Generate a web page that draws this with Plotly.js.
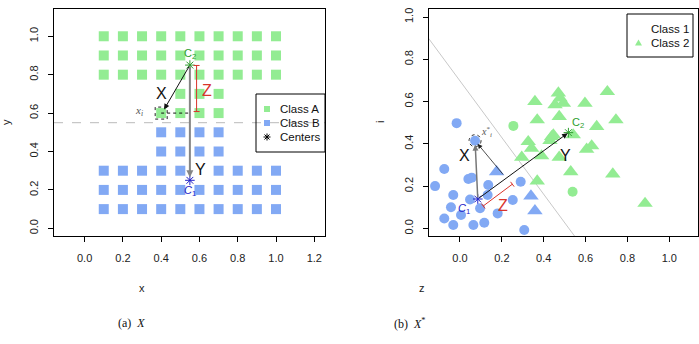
<!DOCTYPE html>
<html>
<head>
<meta charset="utf-8">
<script src="https://cdn.plot.ly/plotly-3.0.1.min.js"></script>
<style>
  html, body { margin: 0; padding: 0; background: #fff; }
  #chart { width: 699px; height: 344px; }
</style>
</head>
<body>
<div id="chart"></div>
<script>
// ---------- panel (a): grid in the original space X ----------
const classAx = [0.1,0.2,0.3,0.4,0.5,0.6,0.7,0.8,0.9,1.0,
                 0.1,0.2,0.3,0.4,0.5,0.6,0.7,0.8,0.9,1.0,
                 0.1,0.2,0.3,0.4,0.5,0.6,0.7,0.8,0.9,1.0,
                 0.5,0.6,0.7,
                 0.4,0.5,0.6,0.7];
const classAy = [1.0,1.0,1.0,1.0,1.0,1.0,1.0,1.0,1.0,1.0,
                 0.9,0.9,0.9,0.9,0.9,0.9,0.9,0.9,0.9,0.9,
                 0.8,0.8,0.8,0.8,0.8,0.8,0.8,0.8,0.8,0.8,
                 0.7,0.7,0.7,
                 0.6,0.6,0.6,0.6];
const classBx = [0.4,0.5,0.6,0.7,
                 0.4,0.5,0.6,0.7,
                 0.1,0.2,0.3,0.4,0.5,0.7,0.8,0.9,1.0,
                 0.1,0.2,0.3,0.4,0.5,0.6,0.7,0.8,0.9,1.0,
                 0.1,0.2,0.3,0.4,0.5,0.6,0.7,0.8,0.9,1.0];
const classBy = [0.5,0.5,0.5,0.5,
                 0.4,0.4,0.4,0.4,
                 0.3,0.3,0.3,0.3,0.3,0.3,0.3,0.3,0.3,
                 0.2,0.2,0.2,0.2,0.2,0.2,0.2,0.2,0.2,0.2,
                 0.1,0.1,0.1,0.1,0.1,0.1,0.1,0.1,0.1,0.1];
const centerA1 = [0.55, 0.25];   // C1 (Class B centre)
const centerA2 = [0.55, 0.85];   // C2 (Class A centre)
const pointA = [0.4, 0.6];       // x_i
const boundaryA = 0.55;          // horizontal separating line
const zBarA = [0.585, 0.608, 0.848]; // x, y from, y to
const tickA_x = [0.0, 0.2, 0.4, 0.6, 0.8, 1.0, 1.2];
const tickA_y = [0.0, 0.2, 0.4, 0.6, 0.8, 1.0];
const legendA = ['Class A', 'Class B', 'Centers'];

// ---------- panel (b): projected space X* ----------
const class1z = [-0.016, 0.072, -0.075, -0.119, -0.032, 0.04, 0.056, 0.135, 0.048, 0.132, 0.29,
                 -0.043, -0.075, 0.005, -0.032, 0.064, 0.116, 0.096, 0.18, 0.252, 0.307];
const class1i = [0.498, 0.415, 0.281, 0.2, 0.158, 0.234, 0.24, 0.205, 0.137, 0.158, 0.221,
                 0.1, 0.047, 0.063, 0.016, 0.016, 0.027, 0.095, 0.071, 0.134, -0.008];
const class1TriZ = [0.175, 0.339, 0.358];
const class1TriI = [0.268, 0.153, 0.083];
const class2CirZ = [0.255, 0.538];
const class2CirI = [0.485, 0.173];
const class2z = [0.358, 0.47, 0.478, 0.454, 0.494, 0.597, 0.704, 0.369, 0.474, 0.653, 0.745, 0.541, 0.326,
                 0.342, 0.438, 0.43, 0.446, 0.39, 0.474, 0.295, 0.605, 0.629, 0.529, 0.369, 0.73, 0.884];
const class2i = [0.60, 0.64, 0.616, 0.584, 0.592, 0.592, 0.647, 0.513, 0.529, 0.482, 0.513, 0.442, 0.41,
                 0.379, 0.434, 0.415, 0.442, 0.343, 0.336, 0.336, 0.374, 0.39, 0.268, 0.224, 0.257, 0.118];
const centerB1 = [0.085, 0.139];
const centerB2 = [0.518, 0.453];
const pointB = [0.072, 0.415];          // x*_i
const footB = [0.212, 0.248];           // end of the thin guide from x*_i
const boundaryBz = [-0.25, 0.65];
const boundaryBi = [1.033, -0.174];
const zBarB = [[0.111, 0.106], [0.25, 0.209]];
const tickB_x = [0.0, 0.2, 0.4, 0.6, 0.8, 1.0];
const tickB_y = [0.0, 0.2, 0.4, 0.6, 0.8, 1.0];
const legendB = ['Class 1', 'Class 2'];

const BLUE = '#82A9F4';
const GREEN = '#93EC93';
const RED = '#D9332B';
const DKGREEN = '#2E9E2E';
const DKBLUE = '#2020C8';
const SANS = 'Liberation Sans, Arial, sans-serif';
const SERIF = 'Liberation Serif, Times New Roman, serif';

function star(c, color, xa, ya) {
  return {x: [c[0]], y: [c[1]], xaxis: xa, yaxis: ya, mode: 'markers', showlegend: false,
          marker: {symbol: 'asterisk-open', size: 8, color: color, line: {color: color, width: 1}}};
}

const traces = [
  // panel (a)
  {x: classAx, y: classAy, xaxis: 'x', yaxis: 'y', type: 'scatter', mode: 'markers', showlegend: false,
   marker: {symbol: 'square', size: 10, color: GREEN}},
  {x: classBx, y: classBy, xaxis: 'x', yaxis: 'y', type: 'scatter', mode: 'markers', showlegend: false,
   marker: {symbol: 'square', size: 10, color: BLUE}},
  star(centerA2, DKGREEN, 'x', 'y'),
  star(centerA1, DKBLUE, 'x', 'y'),
  // panel (b)
  {x: boundaryBz, y: boundaryBi, xaxis: 'x2', yaxis: 'y2', mode: 'lines', showlegend: false,
   line: {color: '#C8C8C8', width: 1}},
  {x: class1z, y: class1i, xaxis: 'x2', yaxis: 'y2', mode: 'markers', showlegend: false,
   marker: {symbol: 'circle', size: 10, color: BLUE}},
  {x: class1TriZ, y: class1TriI, xaxis: 'x2', yaxis: 'y2', mode: 'markers', showlegend: false,
   marker: {symbol: 'triangle-up', size: 13.5, color: BLUE}},
  {x: class2CirZ, y: class2CirI, xaxis: 'x2', yaxis: 'y2', mode: 'markers', showlegend: false,
   marker: {symbol: 'circle', size: 10, color: GREEN}},
  {x: class2z, y: class2i, xaxis: 'x2', yaxis: 'y2', mode: 'markers', showlegend: false,
   marker: {symbol: 'triangle-up', size: 13.5, color: GREEN}},
  star(centerB2, DKGREEN, 'x2', 'y2'),
  star(centerB1, DKBLUE, 'x2', 'y2')
];

function axisStyle(extra) {
  return Object.assign({
    showgrid: false, zeroline: false, showline: true, mirror: true,
    linecolor: '#000', linewidth: 1, ticks: 'outside', ticklen: 5, tickwidth: 1, tickcolor: '#000',
    tickformat: '.1f', tickmode: 'array',
    tickfont: {family: SANS, size: 11, color: '#222'}
  }, extra);
}

function arrow(head, tail, ax, ay, color, width, size, standoff) {
  return {x: head[0], y: head[1], ax: tail[0], ay: tail[1], xref: ax, yref: ay, axref: ax, ayref: ay,
          text: '', showarrow: true, arrowhead: 2, arrowsize: size, arrowwidth: width, arrowcolor: color,
          standoff: standoff || 0, startstandoff: 0};
}
function label(x, y, xr, yr, text, size, color, family) {
  return {x: x, y: y, xref: xr, yref: yr, text: text, showarrow: false,
          xanchor: 'center', yanchor: 'middle',
          font: {family: family || SANS, size: size, color: color}};
}
function pxX(p) { return p / 699; }
function pxY(p) { return 1 - p / 344; }

const annotations = [
  // panel (a)
  arrow(centerA1, centerA2, 'x', 'y', '#858585', 2, 0.7, 3),
  arrow([pointA[0] + 0.01, pointA[1] + 0.01], centerA2, 'x', 'y', '#111', 1, 1.1, 2),
  label(pointA[0], 0.7, 'x', 'y', 'X', 16, '#111'),
  label(0.603, 0.308, 'x', 'y', 'Y', 16, '#111'),
  label(0.64, 0.72, 'x', 'y', 'Z', 16, RED),
  label(centerA2[0], 0.91, 'x', 'y', 'C<sub>2</sub>', 11, DKGREEN),
  label(centerA1[0], 0.195, 'x', 'y', '<i>C</i><sub>1</sub>', 11, DKBLUE),
  label(0.285, 0.61, 'x', 'y', '<i>x</i><sub><i>i</i></sub>', 11, '#555', SERIF),
  // panel (b)
  arrow(pointB, centerB1, 'x2', 'y2', '#777', 1.5, 0.8, 4),
  arrow(pointB, footB, 'x2', 'y2', '#222', 0.8, 1.2, 4),
  arrow(centerB2, centerB1, 'x2', 'y2', '#111', 1, 1.1, 1),
  label(0.02, 0.347, 'x2', 'y2', 'X', 16, '#111'),
  label(0.502, 0.347, 'x2', 'y2', 'Y', 16, '#111'),
  label(0.207, 0.11, 'x2', 'y2', 'Z', 16, RED),
  label(0.565, 0.50, 'x2', 'y2', 'C<sub>2</sub>', 11, DKGREEN),
  label(0.02, 0.09, 'x2', 'y2', '<i>C</i><sub>1</sub>', 11, DKBLUE),
  label(0.127, 0.457, 'x2', 'y2', '<i>x</i><sup>*</sup><sub><i>i</i></sub>', 10, '#555', SERIF),
  // axis titles and captions
  label(pxX(142), pxY(288), 'paper', 'paper', 'x', 11, '#222'),
  label(pxX(422), pxY(288), 'paper', 'paper', 'z', 11, '#222'),
  Object.assign(label(pxX(6), pxY(122), 'paper', 'paper', 'y', 11, '#222'), {textangle: -90}),
  Object.assign(label(pxX(380), pxY(122), 'paper', 'paper', 'i', 11, '#222'), {textangle: -90}),
  label(pxX(131), pxY(323), 'paper', 'paper', '(a)  <i>X</i>', 12, '#111', SERIF),
  label(pxX(410), pxY(323), 'paper', 'paper', '(b)  <i>X</i><sup>*</sup>', 12, '#111', SERIF)
];

// legend texts
const legendTextA = {x0: 278, rows: [109, 123, 137]};
const legendTextB = {x0: 649, rows: [28.5, 43]};
legendA.forEach(function (t, k) {
  annotations.push({x: pxX(legendTextA.x0), y: pxY(legendTextA.rows[k]), xref: 'paper', yref: 'paper',
    text: t, showarrow: false, xanchor: 'left', yanchor: 'middle',
    font: {family: SANS, size: 11.5, color: '#111'}});
});
legendB.forEach(function (t, k) {
  annotations.push({x: pxX(legendTextB.x0), y: pxY(legendTextB.rows[k]), xref: 'paper', yref: 'paper',
    text: t, showarrow: false, xanchor: 'left', yanchor: 'middle',
    font: {family: SANS, size: 11.5, color: '#111'}});
});

function glyph(cx, cy, path, fill, stroke) {
  return {type: 'path', xref: 'paper', yref: 'paper', xsizemode: 'pixel', ysizemode: 'pixel',
          xanchor: pxX(cx), yanchor: pxY(cy), path: path,
          fillcolor: fill || 'rgba(0,0,0,0)', line: {color: stroke || 'rgba(0,0,0,0)', width: 1}};
}
const SQUARE = 'M-3,-3H3V3H-3Z';
const CIRCLE = 'M3,0A3,3 0 1,1 -3,0A3,3 0 1,1 3,0Z';
const TRIANGLE = 'M-3.5,-2.5H3.5L0,3.5Z';
const ASTERISK = 'M-3.5,0H3.5M0,-3.5V3.5M-2.5,-2.5L2.5,2.5M-2.5,2.5L2.5,-2.5';

const shapes = [
  // panel (a)
  {type: 'line', xref: 'x domain', yref: 'y', x0: 0, x1: 1, y0: boundaryA, y1: boundaryA,
   line: {color: '#BBBBBB', width: 1, dash: 'dash'}, layer: 'below'},
  {type: 'line', xref: 'x', yref: 'y', x0: pointA[0], x1: centerA2[0], y0: pointA[1], y1: pointA[1],
   line: {color: '#111', width: 1, dash: 'dot'}},
  {type: 'rect', xref: 'x', yref: 'y', xsizemode: 'pixel', ysizemode: 'pixel',
   xanchor: pointA[0], yanchor: pointA[1], x0: -6, x1: 6, y0: -6, y1: 6,
   line: {color: '#222', width: 1, dash: 'dot'}},
  {type: 'line', xref: 'x', yref: 'y', x0: zBarA[0], x1: zBarA[0], y0: zBarA[1], y1: zBarA[2],
   line: {color: RED, width: 1}},
  {type: 'line', xref: 'x', yref: 'y', xsizemode: 'pixel', xanchor: zBarA[0], x0: -3, x1: 3,
   y0: zBarA[1], y1: zBarA[1], line: {color: RED, width: 1}},
  {type: 'line', xref: 'x', yref: 'y', xsizemode: 'pixel', xanchor: zBarA[0], x0: -3, x1: 3,
   y0: zBarA[2], y1: zBarA[2], line: {color: RED, width: 1}},
  // panel (b)
  {type: 'circle', xref: 'x2', yref: 'y2', xsizemode: 'pixel', ysizemode: 'pixel',
   xanchor: pointB[0], yanchor: pointB[1], x0: -6, x1: 6, y0: -6, y1: 6,
   line: {color: '#333', width: 1, dash: 'dot'}},
  {type: 'line', xref: 'x2', yref: 'y2', x0: zBarB[0][0], x1: zBarB[1][0], y0: zBarB[0][1], y1: zBarB[1][1],
   line: {color: RED, width: 1}},
  {type: 'line', xref: 'x2', yref: 'y2', xsizemode: 'pixel', ysizemode: 'pixel',
   xanchor: zBarB[0][0], yanchor: zBarB[0][1], x0: -1.8, x1: 1.8, y0: 2.4, y1: -2.4,
   line: {color: RED, width: 1}},
  {type: 'line', xref: 'x2', yref: 'y2', xsizemode: 'pixel', ysizemode: 'pixel',
   xanchor: zBarB[1][0], yanchor: zBarB[1][1], x0: -1.8, x1: 1.8, y0: 2.4, y1: -2.4,
   line: {color: RED, width: 1}},
  // legend boxes
  {type: 'rect', xref: 'paper', yref: 'paper', x0: pxX(256), x1: pxX(325), y0: pxY(94), y1: pxY(152),
   line: {color: '#000', width: 1}},
  {type: 'rect', xref: 'paper', yref: 'paper', x0: pxX(627), x1: pxX(693), y0: pxY(14), y1: pxY(57),
   line: {color: '#000', width: 1}},
  // legend symbols
  glyph(267, 109, SQUARE, GREEN),
  glyph(267, 123, SQUARE, BLUE),
  glyph(267, 137, ASTERISK, null, '#000'),
  glyph(638.5, 28.5, CIRCLE, BLUE),
  glyph(638.5, 43, TRIANGLE, GREEN)
];

const layout = {
  width: 699, height: 344,
  margin: {l: 0, r: 0, t: 0, b: 0},
  paper_bgcolor: '#fff', plot_bgcolor: '#fff',
  showlegend: false,
  xaxis: axisStyle({domain: [54 / 699, 325 / 699], range: [-0.16, 1.256], tickvals: tickA_x,
                    anchor: 'y', ticklabelstandoff: 7}),
  yaxis: axisStyle({domain: [108 / 344, 335 / 344], range: [-0.04, 1.142], tickvals: tickA_y,
                    anchor: 'x', tickangle: -90, ticklabelstandoff: 6}),
  xaxis2: axisStyle({domain: [429 / 699, 698 / 699], range: [-0.148, 1.137], tickvals: tickB_x,
                     anchor: 'y2', ticklabelstandoff: 7}),
  yaxis2: axisStyle({domain: [108 / 344, 335 / 344], range: [-0.036, 1.038], tickvals: tickB_y,
                     anchor: 'x2', tickangle: -90, ticklabelstandoff: 6}),
  annotations: annotations,
  shapes: shapes
};

Plotly.newPlot('chart', traces, layout, {staticPlot: true, displayModeBar: false});
</script>
</body>
</html>
